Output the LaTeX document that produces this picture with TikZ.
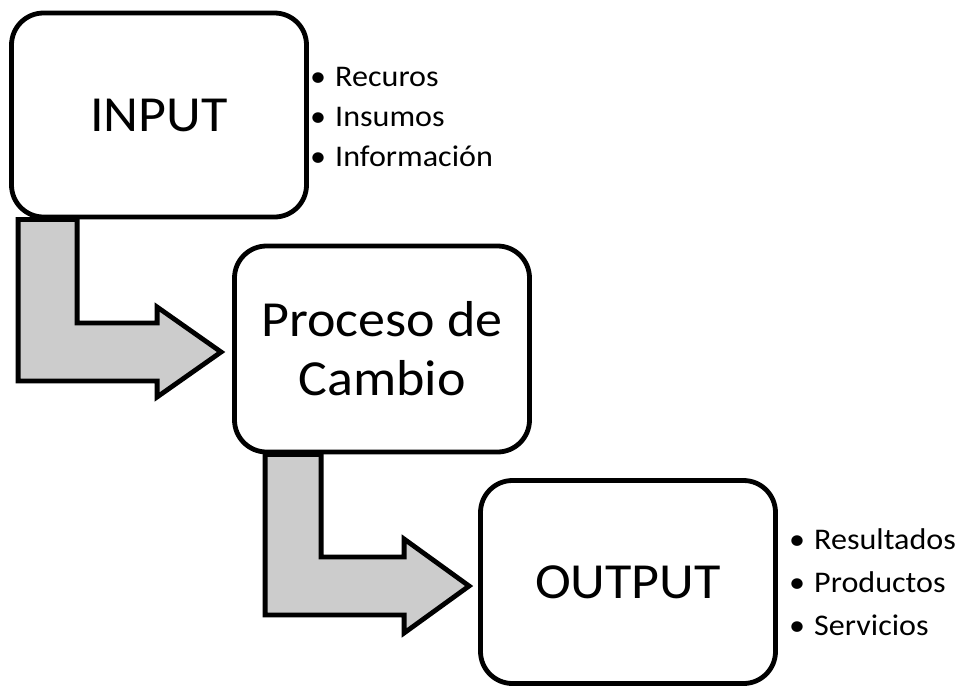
\documentclass[tikz,border=0pt]{standalone}
\usepackage{fontspec}
\setmainfont{Carlito}[FakeStretch=1.07]
\usetikzlibrary{calc}
\definecolor{arrowgray}{HTML}{CCCCCC}
\pgfdeclarelayer{bg}
\pgfsetlayers{bg,main}
\begin{document}
\begin{tikzpicture}[x=1pt,y=-1pt,
  box/.style={draw=black, fill=white, line width=4.8pt, rounded corners=32pt,
    minimum width=295pt, minimum height=204pt, inner sep=0pt, align=center,
    font=\fontsize{50.5}{59}\selectfont},
  bendarrow/.style={draw=black, fill=arrowgray, line width=4.8pt, line join=miter},
  bullets/.style={anchor=north west, inner sep=0pt, align=left}]
\useasboundingbox (0,0) rectangle (969,686);

\node[box] (input) at (159,115) {INPUT};
\node[box, minimum height=206pt] (proc) at (382,349) {Proceso de\\Cambio};
\node[box, minimum height=203pt] (output) at (628,582) {OUTPUT};

\node[bullets, font=\fontsize{30}{40}\selectfont] (inlist) at (310,67)
  {\makebox[25pt][l]{•}Recuros\\\makebox[25pt][l]{•}Insumos\\\makebox[25pt][l]{•}Información};
\node[bullets, font=\fontsize{30}{43}\selectfont] (outlist) at (789,528)
  {\makebox[25pt][l]{•}Resultados\\\makebox[25pt][l]{•}Productos\\\makebox[25pt][l]{•}Servicios};

\coordinate (a1) at ([xshift=9pt]input.south west);
\coordinate (t1) at ([xshift=-11pt,yshift=-3pt]proc.west);
\coordinate (a2) at ([xshift=33pt]proc.south west);
\coordinate (t2) at ([xshift=-9pt,yshift=-4pt]output.west);

\begin{pgfonlayer}{bg}
\draw[bendarrow] (a1) -- ++(59,0) |- ($(t1)+(-64,-29)$) -- ++(0,-16) -- (t1)
  -- ++(-64,45) -- ++(0,-16) -| (a1) -- cycle;
\draw[bendarrow] (a2) -- ++(56,0) |- ($(t2)+(-65,-29)$) -- ++(0,-18) -- (t2)
  -- ++(-65,47) -- ++(0,-18) -| (a2) -- cycle;
\end{pgfonlayer}
\end{tikzpicture}
\end{document}
